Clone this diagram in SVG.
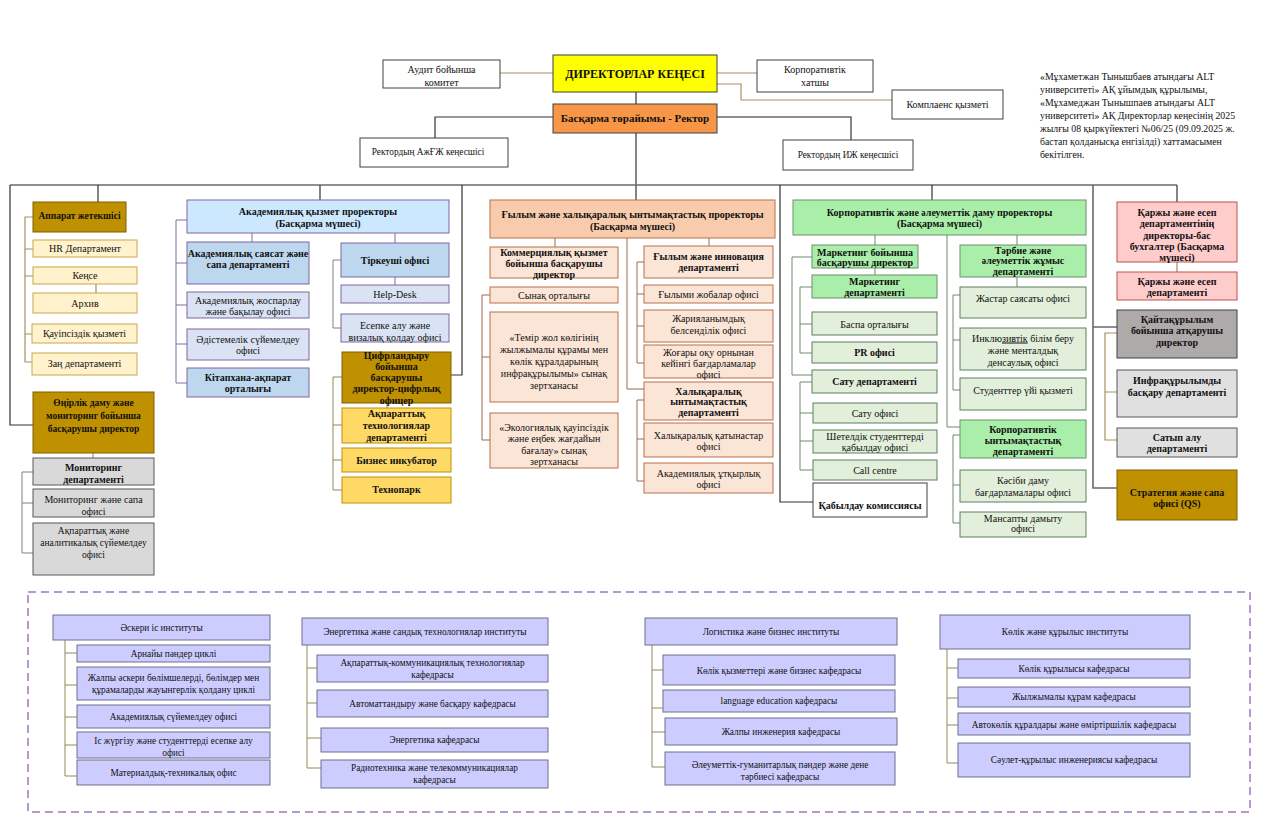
<svg xmlns="http://www.w3.org/2000/svg" width="1280" height="832" viewBox="0 0 1280 832">
<style>
.t{font-family:"Liberation Serif","Times New Roman",serif;font-size:10px;fill:#111;text-anchor:middle}
.b{font-weight:bold}
.s{font-size:9.3px}
.n{font-family:"Liberation Serif","Times New Roman",serif;font-size:9.8px;fill:#111}
rect{stroke-width:1}
.gold{fill:#bf9000;stroke:#7f6000}
.ylt{fill:#fff2cc;stroke:#c9a64b}
.ydk{fill:#ffd966;stroke:#bf9000}
.gry{fill:#d9d9d9;stroke:#595959}
.bl0{fill:#cce8ff;stroke:#8064a2}
.bl1{fill:#bdd7ee;stroke:#8064a2}
.bl2{fill:#dae3f3;stroke:#8064a2}
.or0{fill:#f8cbad;stroke:#b9704a}
.or1{fill:#fbe5d6;stroke:#b9704a}
.gr0{fill:#a9eea9;stroke:#6f8f6f}
.gr1{fill:#e2efda;stroke:#5f7f5f}
.pk{fill:#ffcccc;stroke:#c0504d}
.gy2{fill:#aeaaaa;stroke:#404040}
.gy3{fill:#e0e0e0;stroke:#595959}
.wh{fill:#fff;stroke:#404040}
.lv{fill:#ccccff;stroke:#6f6f8f}
.c{fill:none;stroke:#333;stroke-width:1.2}
.cg{fill:none;stroke:#6a6a6a;stroke-width:1.6}
.ct{fill:none;stroke:#a89060;stroke-width:1.2}
.cp{fill:none;stroke:#7f6f9f;stroke-width:1}
.co{fill:none;stroke:#9a6a50;stroke-width:1}
.cgr{fill:none;stroke:#6f8a6f;stroke-width:1}
.cy{fill:none;stroke:#948a54;stroke-width:1}
.cgy{fill:none;stroke:#808080;stroke-width:1}
</style>

<g id="connectors">
  <path class="ct" d="M500 73 H553"/>
  <path class="ct" d="M717 73 H757"/>
  <path class="ct" d="M717 84 H741 V100 H892"/>
  <path class="c" d="M636 92 V104"/>
  <path class="c" d="M553 117 H435 V138"/>
  <path class="cg" d="M717 117 H851 V140"/>
  <path class="c" d="M636 133 V200"/>
  <path class="cg" d="M10 185 H1177"/>
  <path class="c" d="M10 185 V425 H33"/>
  <path class="c" d="M98 185 V202"/>
  <path class="c" d="M320 185 V200"/>
  <path class="c" d="M462 185 V375 H451"/>
  <path class="c" d="M780 185 V502 H813"/>
  <path class="c" d="M932 185 V200"/>
  <path class="cg" d="M1093 185 V488 H1117 M1093 327 H1117"/>
  <path class="c" d="M1177 185 V202"/>
  <path class="ct" d="M33 217 H25 V362 H33 M25 249 H33 M25 276 H33 M25 334 H33"/>
  <path class="ct" d="M96 284 V293"/>
  <path class="cgy" d="M93 453 V458"/>
  <path class="cgy" d="M33 472 H22 V553 H33 M22 503 H33"/>
  <path class="cp" d="M187 220 H176 V383 H187 M176 263 H187 M176 305 H187 M176 344 H187"/>
  <path class="cp" d="M252 233 V242"/>
  <path class="cp" d="M395 233 V243 M395 277 V285"/>
  <path class="cgy" d="M341 260 H333 V328 H341"/>
  <path class="cy" d="M342 377 H333 V490 H342 M333 425 H342 M333 460 H342"/>
  <path class="cy" d="M387 403 V408"/>
  <path class="co" d="M555 238 V247"/>
  <path class="co" d="M490 295 H482 V440 H490 M482 357 H490"/>
  <path class="co" d="M709 238 V246"/>
  <path class="co" d="M644 262 H637 V363 H644 M637 294 H644 M637 326 H644"/>
  <path class="co" d="M627 238 V389 H644"/>
  <path class="co" d="M644 400 H637 V481 H644 M637 439 H644"/>
  <path class="cgr" d="M875 235 V245 M875 268 V275"/>
  <path class="cgr" d="M812 257 H792 V375 H812"/>
  <path class="cgr" d="M812 287 H800 V353 H812 M800 324 H812"/>
  <path class="cgr" d="M812 382 H800 V470 H813 M800 413 H813 M800 441 H813"/>
  <path class="cgr" d="M1017 235 V245 M1017 277 V287"/>
  <path class="cgr" d="M960 295 H953 V390 H960 M953 340 H960"/>
  <path class="cgr" d="M947 235 V427 H960"/>
  <path class="cgr" d="M960 435 H953 V523 H960 M953 485 H960"/>
  <path class="co" d="M1177 262 V272"/>
  <path class="ct" d="M1117 333 H1105 V440 H1117 M1105 392 H1117"/>
  <path class="cy" d="M65 640 V776 H77 M65 653 H77 M65 685 H77 M65 717 H77 M65 745 H77"/>
  <path class="cy" d="M307 645 V768 H321 M307 668 H317 M307 703 H317 M307 738 H321"/>
  <path class="cy" d="M652 645 V767 H665 M652 670 H663 M652 708 H663 M652 732 H665"/>
  <path class="cy" d="M947 649 V763 H958 M947 668 H958 M947 698 H958 M947 725 H958"/>
</g>

<g id="audit"><rect class="wh" x="383" y="60" width="117" height="28"/><text class="t"><tspan x="441.5" y="73">Аудит бойынша</tspan><tspan x="441.5" y="86">комитет</tspan></text></g>
<g id="board"><rect x="553" y="55" width="164" height="37" fill="#ffff00" stroke="#404040" stroke-width="1.5"/><text class="t b" x="635" y="78" style="font-size:12px">ДИРЕКТОРЛАР КЕҢЕСІ</text></g>
<g id="secretary"><rect class="wh" x="757" y="60" width="116" height="32"/><text class="t"><tspan x="815" y="73">Корпоративтік</tspan><tspan x="815" y="86">хатшы</tspan></text></g>
<g id="compliance"><rect class="wh" x="892" y="90" width="111" height="29"/><text class="t" x="947.5" y="108">Комплаенс қызметі</text></g>
<g id="rector"><rect x="553" y="104" width="164" height="29" fill="#f79646" stroke="#404040" stroke-width="1.5"/><text class="t b" x="635" y="122" style="font-size:11px">Басқарма төрайымы - Ректор</text></g>
<g id="adv1"><rect class="wh" x="360" y="138" width="148" height="29"/><text class="t s" x="428" y="155">Ректордың АжҒЖ кеңесшісі</text></g>
<g id="adv2"><rect class="wh" x="783" y="140" width="130" height="30"/><text class="t s" x="848" y="158">Ректордың ИЖ кеңесшісі</text></g>

<g id="note"><text class="n"><tspan x="1040" y="80">«Мұхаметжан Тынышбаев атындағы ALT</tspan><tspan x="1040" y="93">университеті» АҚ ұйымдық құрылымы,</tspan><tspan x="1040" y="106">«Мұхамеджан Тынышпаев атындағы ALT</tspan><tspan x="1040" y="119">университеті» АҚ Директорлар кеңесінің 2025</tspan><tspan x="1040" y="132">жылғы 08 қыркүйектегі №06/25 (09.09.2025 ж.</tspan><tspan x="1040" y="145">бастап қолданысқа енгізілді) хаттамасымен</tspan><tspan x="1040" y="158">бекітілген.</tspan></text></g>

<g id="apparat"><rect class="gold" x="33" y="202" width="93" height="30"/><text class="t b" x="79.5" y="219" style="font-size:9.5px">Аппарат жетекшісі</text></g>
<g id="hr"><rect class="ylt" x="33" y="240" width="104" height="17"/><text class="t" x="85" y="252">HR Департамент</text></g>
<g id="kense"><rect class="ylt" x="33" y="267" width="104" height="17"/><text class="t" x="85" y="279">Кеңсе</text></g>
<g id="archive"><rect class="ylt" x="33" y="293" width="104" height="20"/><text class="t" x="85" y="306.5">Архив</text></g>
<g id="security"><rect class="ylt" x="32" y="324" width="105" height="19"/><text class="t" x="84.5" y="337">Қауіпсіздік қызметі</text></g>
<g id="legal"><rect class="ylt" x="32" y="353" width="105" height="22"/><text class="t" x="84.5" y="367">Заң департаменті</text></g>
<g id="regional"><rect class="gold" x="33" y="392" width="121" height="61"/><text class="t b" style="font-size:9.5px"><tspan x="93.5" y="405.5">Өңірлік даму және</tspan><tspan x="93.5" y="418.5">мониторинг бойынша</tspan><tspan x="93.5" y="431.5">басқарушы директор</tspan></text></g>
<g id="monitoring"><rect class="gry" x="33" y="458" width="121" height="27"/><text class="t b"><tspan x="93.5" y="471">Мониторинг</tspan><tspan x="93.5" y="483">департаменті</tspan></text></g>
<g id="mon-quality"><rect class="gry" x="33" y="489" width="121" height="28"/><text class="t"><tspan x="93.5" y="503">Мониторинг және сапа</tspan><tspan x="93.5" y="514.5">офисі</tspan></text></g>
<g id="analytics"><rect class="gry" x="33" y="523" width="121" height="52"/><text class="t" style="font-size:9.5px"><tspan x="93.5" y="533.5">Ақпараттық және</tspan><tspan x="93.5" y="545.5">аналитикалық сүйемелдеу</tspan><tspan x="93.5" y="557.5">офисі</tspan></text></g>

<g id="acad"><rect class="bl0" x="187" y="200" width="262" height="33"/><text class="t b"><tspan x="318" y="214.5">Академиялық қызмет проректоры</tspan><tspan x="318" y="226.5">(Басқарма мүшесі)</tspan></text></g>
<g id="acad-policy"><rect class="bl1" x="187" y="242" width="122" height="42"/><text class="t b"><tspan x="248" y="256.5">Академиялық саясат және</tspan><tspan x="248" y="268">сапа департаменті</tspan></text></g>
<g id="acad-plan"><rect class="bl2" x="187" y="292" width="122" height="26"/><text class="t"><tspan x="248" y="303.5">Академиялық жоспарлау</tspan><tspan x="248" y="315">және бақылау офисі</tspan></text></g>
<g id="method"><rect class="bl2" x="187" y="329" width="122" height="31"/><text class="t"><tspan x="248" y="342.5">Әдістемелік сүйемелдеу</tspan><tspan x="248" y="354">офисі</tspan></text></g>
<g id="library"><rect class="bl1" x="187" y="368" width="122" height="29"/><text class="t b"><tspan x="248" y="380.5">Кітапхана-ақпарат</tspan><tspan x="248" y="392">орталығы</tspan></text></g>
<g id="registrar"><rect class="bl1" x="341" y="243" width="108" height="34"/><text class="t b" x="395" y="263.5">Тіркеуші офисі</text></g>
<g id="helpdesk"><rect class="bl2" x="341" y="285" width="108" height="18"/><text class="t" x="395" y="298">Help-Desk</text></g>
<g id="visa"><rect class="bl2" x="341" y="314" width="108" height="28"/><text class="t"><tspan x="395" y="329">Есепке алу және</tspan><tspan x="395" y="340.5">визалық қолдау офисі</tspan></text></g>
<g id="cdo"><rect class="gold" x="342" y="352" width="109" height="51"/><text class="t b"><tspan x="396.5" y="358.5">Цифрландыру</tspan><tspan x="396.5" y="369.8">бойынша</tspan><tspan x="396.5" y="381.1">басқарушы</tspan><tspan x="396.5" y="392.4">директор-цифрлық</tspan><tspan x="396.5" y="403.7">офицер</tspan></text></g>
<g id="it"><rect class="ydk" x="342" y="408" width="109" height="35"/><text class="t b"><tspan x="396.5" y="416.5">Ақпараттық</tspan><tspan x="396.5" y="428.5">технологиялар</tspan><tspan x="396.5" y="440.5">департаменті</tspan></text></g>
<g id="incubator"><rect class="ydk" x="342" y="448" width="109" height="24"/><text class="t b" x="396.5" y="463.5">Бизнес инкубатор</text></g>
<g id="technopark"><rect class="ydk" x="342" y="477" width="109" height="26"/><text class="t b" x="396.5" y="492.5">Технопарк</text></g>

<g id="science"><rect class="or0" x="490" y="200" width="285" height="38"/><text class="t b"><tspan x="632.5" y="217.5">Ғылым және халықаралық ынтымақтастық проректоры</tspan><tspan x="632.5" y="229.5">(Басқарма мүшесі)</tspan></text></g>
<g id="commercial"><rect class="or1" x="490" y="247" width="128" height="31"/><text class="t b"><tspan x="554" y="255.5">Коммерциялық қызмет</tspan><tspan x="554" y="266.5">бойынша басқарушы</tspan><tspan x="554" y="277.5">директор</tspan></text></g>
<g id="test-center"><rect class="or1" x="490" y="287" width="128" height="16"/><text class="t" x="554" y="299">Сынақ орталығы</text></g>
<g id="rail-lab"><rect class="or1" x="490" y="312" width="128" height="90"/><text class="t"><tspan x="554" y="340.5">«Темір жол көлігінің</tspan><tspan x="554" y="352.5">жылжымалы құрамы мен</tspan><tspan x="554" y="364.5">көлік құралдарының</tspan><tspan x="554" y="376.5">инфрақұрылымы» сынақ</tspan><tspan x="554" y="388.5">зертханасы</tspan></text></g>
<g id="eco-lab"><rect class="or1" x="490" y="413" width="128" height="55"/><text class="t"><tspan x="554" y="430.5">«Экологиялық қауіпсіздік</tspan><tspan x="554" y="442">және еңбек жағдайын</tspan><tspan x="554" y="453.5">бағалау» сынақ</tspan><tspan x="554" y="465">зертханасы</tspan></text></g>
<g id="sci-innov"><rect class="or1" x="644" y="246" width="129" height="32"/><text class="t b"><tspan x="708.5" y="260">Ғылым және инновация</tspan><tspan x="708.5" y="271">департаменті</tspan></text></g>
<g id="sci-proj"><rect class="or1" x="644" y="285" width="129" height="18"/><text class="t" x="708.5" y="297.5">Ғылыми жобалар офисі</text></g>
<g id="publication"><rect class="or1" x="644" y="310" width="129" height="32"/><text class="t"><tspan x="708.5" y="321.5">Жарияланымдық</tspan><tspan x="708.5" y="333.5">белсенділік офисі</tspan></text></g>
<g id="postgrad"><rect class="or1" x="644" y="345" width="129" height="33"/><text class="t"><tspan x="708.5" y="355.5">Жоғары оқу орнынан</tspan><tspan x="708.5" y="366.5">кейінгі бағдарламалар</tspan><tspan x="708.5" y="377.5">офисі</tspan></text></g>
<g id="intl"><rect class="or1" x="644" y="382" width="129" height="38"/><text class="t b"><tspan x="708.5" y="394.5">Халықаралық</tspan><tspan x="708.5" y="405">ынтымақтастық</tspan><tspan x="708.5" y="415.5">департаменті</tspan></text></g>
<g id="intl-rel"><rect class="or1" x="644" y="423" width="129" height="34"/><text class="t"><tspan x="708.5" y="438.5">Халықаралық қатынастар</tspan><tspan x="708.5" y="450">офисі</tspan></text></g>
<g id="mobility"><rect class="or1" x="644" y="463" width="129" height="30"/><text class="t"><tspan x="708.5" y="476.5">Академиялық ұтқырлық</tspan><tspan x="708.5" y="488">офисі</tspan></text></g>

<g id="corp"><rect class="gr0" x="793" y="200" width="293" height="35"/><text class="t b"><tspan x="939.5" y="215.5">Корпоративтік және әлеуметтік даму проректоры</tspan><tspan x="939.5" y="227">(Басқарма мүшесі)</tspan></text></g>
<g id="mkt-dir"><rect class="gr0" x="812" y="245" width="106" height="23"/><text class="t b"><tspan x="865" y="255.5">Маркетинг бойынша</tspan><tspan x="865" y="266">басқарушы директор</tspan></text></g>
<g id="mkt-dept"><rect class="gr0" x="812" y="275" width="125" height="23"/><text class="t b"><tspan x="874.5" y="284.5">Маркетинг</tspan><tspan x="874.5" y="295.5">департаменті</tspan></text></g>
<g id="print"><rect class="gr1" x="812" y="312" width="125" height="23"/><text class="t" x="874.5" y="327.5">Баспа орталығы</text></g>
<g id="pr"><rect class="gr1" x="812" y="342" width="125" height="21"/><text class="t b" x="874.5" y="356">PR офисі</text></g>
<g id="sales-dept"><rect class="gr1" x="812" y="370" width="125" height="23"/><text class="t b" x="874.5" y="385">Сату департаменті</text></g>
<g id="sales-off"><rect class="gr1" x="813" y="403" width="124" height="20"/><text class="t" x="875" y="416.5">Сату офисі</text></g>
<g id="foreign"><rect class="gr1" x="813" y="430" width="124" height="23"/><text class="t"><tspan x="875" y="439.5">Шетелдік студенттерді</tspan><tspan x="875" y="450.5">қабылдау офисі</tspan></text></g>
<g id="callcentre"><rect class="gr1" x="813" y="460" width="124" height="20"/><text class="t" x="875" y="473.5">Call centre</text></g>
<g id="admission"><rect class="wh" x="813" y="483" width="114" height="34"/><text class="t b" x="870" y="509">Қабылдау комиссиясы</text></g>
<g id="upbringing"><rect class="gr0" x="960" y="245" width="126" height="32"/><text class="t b"><tspan x="1023" y="253.5">Тәрбие және</tspan><tspan x="1023" y="264">әлеуметтік жұмыс</tspan><tspan x="1023" y="274.5">департаменті</tspan></text></g>
<g id="youth"><rect class="gr1" x="960" y="287" width="126" height="31"/><text class="t" x="1023" y="301.5">Жастар саясаты офисі</text></g>
<g id="inclusive"><rect class="gr1" x="960" y="328" width="126" height="42"/><text class="t"><tspan x="1023" y="341.5">Инклю<tspan text-decoration="underline">зивтік</tspan> білім беру</tspan><tspan x="1023" y="353.5">және менталдық</tspan><tspan x="1023" y="365.5">денсаулық офисі</tspan></text></g>
<g id="dorm"><rect class="gr1" x="960" y="378" width="126" height="32"/><text class="t" x="1023" y="393.5">Студенттер үйі қызметі</text></g>
<g id="corp-coop"><rect class="gr0" x="960" y="420" width="126" height="38"/><text class="t b"><tspan x="1023" y="432.5">Корпоративтік</tspan><tspan x="1023" y="443.5">ынтымақтастық</tspan><tspan x="1023" y="454.5">департаменті</tspan></text></g>
<g id="prof-dev"><rect class="gr1" x="960" y="470" width="126" height="32"/><text class="t"><tspan x="1023" y="483.5">Кәсіби даму</tspan><tspan x="1023" y="495.5">бағдарламалары офисі</tspan></text></g>
<g id="career"><rect class="gr1" x="960" y="512" width="126" height="25"/><text class="t"><tspan x="1023" y="521.5">Мансапты  дамыту</tspan><tspan x="1023" y="532">офисі</tspan></text></g>

<g id="cfo"><rect class="pk" x="1117" y="202" width="120" height="60"/><text class="t b"><tspan x="1177" y="216">Қаржы және есеп</tspan><tspan x="1177" y="227">департаментінің</tspan><tspan x="1177" y="238.5">директоры-бас</tspan><tspan x="1177" y="249.5">бухгалтер (Басқарма</tspan><tspan x="1177" y="260.5">мүшесі)</tspan></text></g>
<g id="finance"><rect class="pk" x="1117" y="272" width="120" height="28"/><text class="t b"><tspan x="1177" y="284.5">Қаржы және есеп</tspan><tspan x="1177" y="295.5">департаменті</tspan></text></g>
<g id="restructuring"><rect class="gy2" x="1117" y="310" width="120" height="48"/><text class="t b"><tspan x="1177" y="322.5">Қайтақұрылым</tspan><tspan x="1177" y="334">бойынша атқарушы</tspan><tspan x="1177" y="345.5">директор</tspan></text></g>
<g id="infra"><rect class="gy3" x="1117" y="370" width="120" height="47"/><text class="t b"><tspan x="1177" y="383.5">Инфрақұрылымды</tspan><tspan x="1177" y="395.5">басқару департаменті</tspan></text></g>
<g id="procurement"><rect class="gy3" x="1117" y="428" width="120" height="29"/><text class="t b"><tspan x="1177" y="440.5">Сатып алу</tspan><tspan x="1177" y="451.5">департаменті</tspan></text></g>
<g id="strategy"><rect class="gold" x="1117" y="470" width="120" height="50"/><text class="t b"><tspan x="1177" y="495.5">Стратегия және сапа</tspan><tspan x="1177" y="507">офисі (QS)</tspan></text></g>

<rect x="28" y="592" width="1222" height="220" fill="none" stroke="#7030a0" stroke-width="2" stroke-dasharray="8 5"/>
<g id="inst-mil"><rect class="lv" x="53" y="615" width="217" height="25"/><text class="t s" x="161.5" y="631">Әскери іс институты</text></g>
<g id="mil-1"><rect class="lv" x="77" y="645" width="193" height="17"/><text class="t s" x="173.5" y="657">Арнайы пәндер циклі</text></g>
<g id="mil-2"><rect class="lv" x="77" y="667" width="193" height="33"/><text class="t s"><tspan x="173.5" y="681">Жалпы әскери бөлімшелерді, бөлімдер мен</tspan><tspan x="173.5" y="693">құрамаларды жауынгерлік қолдану циклі</tspan></text></g>
<g id="mil-3"><rect class="lv" x="77" y="705" width="193" height="23"/><text class="t s" x="173.5" y="720">Академиялық сүйемелдеу офисі</text></g>
<g id="mil-4"><rect class="lv" x="77" y="732" width="193" height="26"/><text class="t s"><tspan x="173.5" y="743.5">Іс жүргізу және студенттерді есепке алу</tspan><tspan x="173.5" y="756">офисі</tspan></text></g>
<g id="mil-5"><rect class="lv" x="77" y="760" width="193" height="25"/><text class="t s" x="173.5" y="776">Материалдық-техникалық офис</text></g>

<g id="inst-energy"><rect class="lv" x="302" y="618" width="246" height="27"/><text class="t s" x="425" y="634.5">Энергетика және сандық технологиялар институты</text></g>
<g id="en-1"><rect class="lv" x="317" y="655" width="231" height="27"/><text class="t s"><tspan x="432.5" y="666">Ақпараттық-коммуникациялық технологиялар</tspan><tspan x="432.5" y="677.5">кафедрасы</tspan></text></g>
<g id="en-2"><rect class="lv" x="317" y="690" width="231" height="27"/><text class="t s" x="432.5" y="707">Автоматтандыру және басқару кафедрасы</text></g>
<g id="en-3"><rect class="lv" x="321" y="728" width="227" height="24"/><text class="t s" x="434.5" y="743">Энергетика кафедрасы</text></g>
<g id="en-4"><rect class="lv" x="321" y="760" width="227" height="28"/><text class="t s"><tspan x="434.5" y="771">Радиотехника және телекоммуникациялар</tspan><tspan x="434.5" y="783">кафедрасы</tspan></text></g>

<g id="inst-log"><rect class="lv" x="645" y="618" width="252" height="27"/><text class="t s" x="771" y="634.5">Логистика және бизнес институты</text></g>
<g id="log-1"><rect class="lv" x="663" y="655" width="232" height="30"/><text class="t s" x="779" y="673.5">Көлік қызметтері және бизнес кафедрасы</text></g>
<g id="log-2"><rect class="lv" x="663" y="690" width="232" height="22"/><text class="t s" x="779" y="704">language education кафедрасы</text></g>
<g id="log-3"><rect class="lv" x="665" y="718" width="232" height="27"/><text class="t s" x="781" y="735">Жалпы инженерия кафедрасы</text></g>
<g id="log-4"><rect class="lv" x="665" y="752" width="230" height="33"/><text class="t s"><tspan x="780" y="768">Әлеуметтік-гуманитарлық пәндер және дене</tspan><tspan x="780" y="780">тәрбиесі кафедрасы</tspan></text></g>

<g id="inst-transport"><rect class="lv" x="940" y="615" width="250" height="34"/><text class="t s" x="1065" y="635">Көлік және құрылыс институты</text></g>
<g id="tr-1"><rect class="lv" x="958" y="659" width="232" height="19"/><text class="t s" x="1074" y="671.5">Көлік құрылысы кафедрасы</text></g>
<g id="tr-2"><rect class="lv" x="958" y="687" width="232" height="20"/><text class="t s" x="1074" y="700">Жылжымалы құрам кафедрасы</text></g>
<g id="tr-3"><rect class="lv" x="958" y="713" width="232" height="22"/><text class="t s" x="1074" y="727.5">Автокөлік құралдары және өміртіршілік кафедрасы</text></g>
<g id="tr-4"><rect class="lv" x="958" y="743" width="232" height="34"/><text class="t s" x="1074" y="763">Сәулет-құрылыс инженериясы кафедрасы</text></g>
</svg>
